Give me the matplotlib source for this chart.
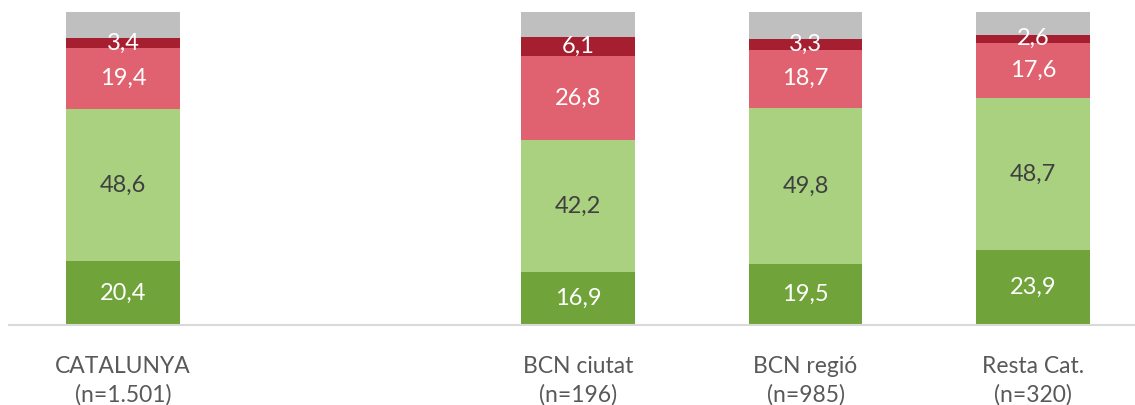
import matplotlib.pyplot as plt

# categories (an empty slot sits between CATALUNYA and the BCN groups)
categories = ["CATALUNYA\n(n=1.501)", "", "BCN ciutat\n(n=196)",
              "BCN regió\n(n=985)", "Resta Cat.\n(n=320)"]
has_bar = [True, False, True, True, True]

# percentages per segment, bottom to top
molt_bo = [20.4, 0, 16.9, 19.5, 23.9]
bo = [48.6, 0, 42.2, 49.8, 48.7]
dolent = [19.4, 0, 26.8, 18.7, 17.6]
molt_dolent = [3.4, 0, 6.1, 3.3, 2.6]
nsnc = [8.2, 0, 8.0, 8.7, 7.2]

series = [molt_bo, bo, dolent, molt_dolent, nsnc]
colors = ["#70a33a", "#a9d180", "#e0616f", "#a51f31", "#bfbfbf"]
text_colors = ["white", "#404040", "white", "white", None]


def main():
    fig = plt.figure(figsize=(11.35, 4.05), dpi=100)

    # axes spans 5 slots; right part runs past the figure edge
    left = 9.25 / 1135
    width = 1137.5 / 1135
    ax = fig.add_axes([left, 80 / 405, width, 313 / 405])
    ax.patch.set_alpha(0)

    x = list(range(len(categories)))
    bottom = [0] * len(categories)
    for vals, col, tcol in zip(series, colors, text_colors):
        ax.bar(x, vals, bottom=bottom, width=0.5, color=col, zorder=2)
        for i in x:
            if has_bar[i] and tcol is not None:
                ax.text(i, bottom[i] + vals[i] / 2, f"{vals[i]:.1f}".replace(".", ","),
                        ha="center", va="center", color=tcol, fontsize=17,
                        family="Lato", zorder=3)
        bottom = [b + v for b, v in zip(bottom, vals)]

    ax.set_xlim(-0.5, 4.5)
    ax.set_ylim(0, 100)
    for s in ["top", "right", "left"]:
        ax.spines[s].set_visible(False)
    ax.spines["bottom"].set_color("#d9d9d9")
    ax.spines["bottom"].set_linewidth(1.5)
    ax.set_yticks([])
    ax.set_xticks(x)
    ax.set_xticklabels(categories, fontsize=16.5, color="#595959", family="Lato",
                       linespacing=1.45)
    ax.tick_params(axis="x", length=0, pad=22)

    fig.savefig("out.png", dpi=100)


if __name__ == "__main__":
    main()
